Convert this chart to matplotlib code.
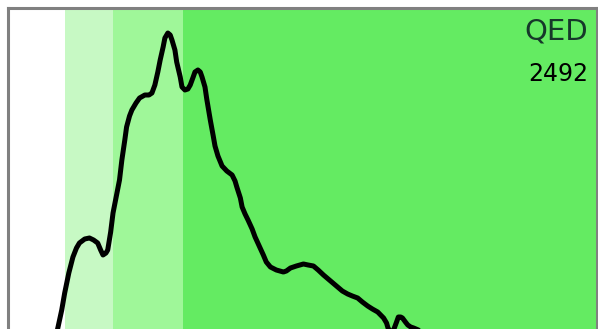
import matplotlib
matplotlib.use("Agg")
import matplotlib.pyplot as plt

# QED density curve (x = QED score, y = density)
qed = [0.080, 0.085, 0.092, 0.097, 0.104, 0.111, 0.117, 0.122, 0.131, 0.139,
       0.146, 0.153, 0.158, 0.162, 0.167, 0.170, 0.175, 0.179, 0.185, 0.190,
       0.194, 0.199, 0.202, 0.207, 0.211, 0.218, 0.224, 0.233, 0.240, 0.245,
       0.250, 0.255, 0.259, 0.264, 0.267, 0.272, 0.276, 0.279, 0.284, 0.287,
       0.293, 0.296, 0.301, 0.306, 0.310, 0.315, 0.318, 0.323, 0.327, 0.330,
       0.335, 0.338, 0.344, 0.349, 0.352, 0.357, 0.364, 0.372, 0.381, 0.386,
       0.389, 0.395, 0.398, 0.403, 0.408, 0.415, 0.420, 0.427, 0.434, 0.439,
       0.446, 0.456, 0.468, 0.473, 0.480, 0.490, 0.502, 0.510, 0.519, 0.527,
       0.536, 0.548, 0.560, 0.568, 0.577, 0.585, 0.594, 0.602, 0.611, 0.619,
       0.628, 0.638, 0.643, 0.646, 0.653, 0.660, 0.663, 0.667, 0.670, 0.675,
       0.679, 0.684, 0.689, 0.697, 0.709, 0.735, 0.837, 0.998]
density = [0.04, 0.20, 0.39, 0.56, 0.76, 0.92, 1.01, 1.06, 1.10, 1.11,
           1.09, 1.06, 0.99, 0.94, 0.96, 0.99, 1.17, 1.36, 1.54, 1.69,
           1.89, 2.09, 2.22, 2.33, 2.39, 2.46, 2.51, 2.54, 2.54, 2.56,
           2.64, 2.77, 2.89, 3.02, 3.11, 3.16, 3.14, 3.09, 2.99, 2.87,
           2.72, 2.62, 2.59, 2.60, 2.64, 2.72, 2.77, 2.79, 2.77, 2.72,
           2.62, 2.50, 2.29, 2.13, 2.03, 1.93, 1.83, 1.78, 1.74, 1.68,
           1.62, 1.51, 1.42, 1.35, 1.29, 1.20, 1.12, 1.03, 0.94, 0.87,
           0.82, 0.79, 0.77, 0.78, 0.81, 0.83, 0.85, 0.84, 0.83, 0.79,
           0.74, 0.68, 0.62, 0.58, 0.55, 0.53, 0.51, 0.47, 0.43, 0.40,
           0.37, 0.31, 0.26, 0.20, 0.16, 0.27, 0.32, 0.32, 0.31, 0.27,
           0.24, 0.22, 0.21, 0.19, 0.16, 0.13, 0.09, 0.04]

# shaded QED ranges
band_edges = [0.0, 0.097, 0.179, 0.297, 1.0]
band_colors = ["#ffffff", "#c7f9c4", "#9ff799", "#64eb62"]

title = "QED"
count = "2492"

fig = plt.figure(figsize=(5.98, 3.29), dpi=100)
ax = fig.add_axes([7.5 / 598, 0.0, 589.5 / 598, 1 - 7.5 / 329])

for lo, hi, c in zip(band_edges[:-1], band_edges[1:], band_colors):
    ax.axvspan(lo, hi, color=c, lw=0, zorder=0)

ax.plot(qed, density, color="black", lw=3.6, solid_joinstyle="round",
        solid_capstyle="round", zorder=3)

ax.set_xlim(0, 1)
ax.set_ylim(0.2, 3.415)
ax.set_xticks([])
ax.set_yticks([])
for side in ["left", "top", "right"]:
    ax.spines[side].set_color("#808080")
    ax.spines[side].set_linewidth(2.2)
ax.spines["bottom"].set_visible(False)

ax.text(0.985, 0.97, title, transform=ax.transAxes, ha="right", va="top",
        fontsize=21, color="#16382a", family="DejaVu Sans", zorder=4)
ax.text(0.985, 0.83, count, transform=ax.transAxes, ha="right", va="top",
        fontsize=17, color="black", family="DejaVu Sans", zorder=4)

fig.savefig("out.png", dpi=100)
